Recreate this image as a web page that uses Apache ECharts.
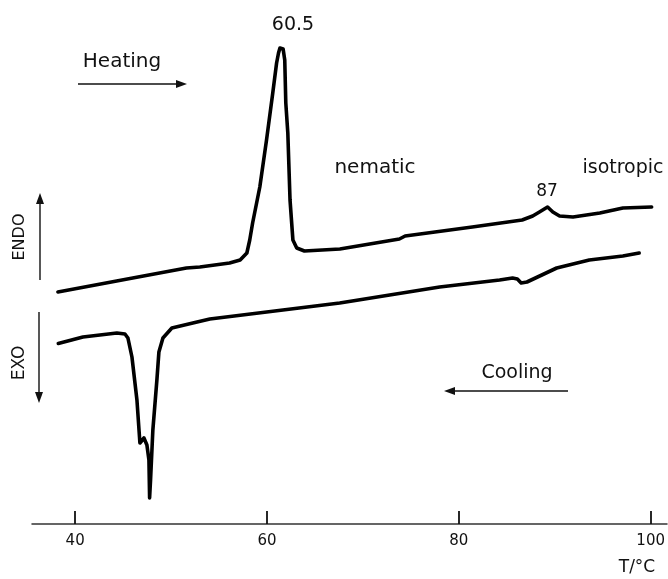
<!DOCTYPE html>
<html>
<head>
<meta charset="utf-8">
<script src="https://cdn.jsdelivr.net/npm/echarts@6/dist/echarts.min.js"></script>
<style>
  html, body { margin: 0; padding: 0; background: #fff; }
  #main { width: 668px; height: 579px; }
</style>
</head>
<body>
<div id="main"></div>
<script>
// DSC trace, temperature (°C) vs heat flow (arbitrary units)
var heatingT = [38.2, 46.0, 51.6, 53.0, 56.1, 57.2, 57.9, 58.2, 58.5, 59.25, 59.95, 60.6, 61.0, 61.2, 61.35, 61.5,
  61.68, 61.85, 61.96, 62.17, 62.4, 62.7, 63.1, 63.9, 67.6, 73.8, 74.4, 81.4, 86.6, 87.7, 88.4, 89.25, 89.8,
  90.5, 91.9, 94.7, 97.1, 100.1];
var heatingY = [46.4, 49.2, 51.2, 51.4, 52.2, 52.8, 54.2, 56.8, 60.2, 67.4, 76.8, 86.2, 92.2, 94.2, 95.2, 95.5,
  95.0, 92.8, 84.2, 78.2, 64.8, 56.8, 55.2, 54.6, 55.0, 57.0, 57.6, 59.4, 60.8, 61.6, 62.4, 63.4, 62.4,
  61.6, 61.4, 62.2, 63.2, 63.4];

var coolingT = [38.24, 40.81, 44.35, 45.19, 45.5, 45.92, 46.44, 46.75, 47.17, 47.48, 47.69, 47.76, 47.86,
  48.1, 48.52, 48.73, 49.15, 50.08, 52.27, 54.04, 67.58, 78.0, 84.25, 85.6, 86.1, 86.5, 87.1, 90.2,
  93.6, 97.1, 98.8];
var coolingY = [36.1, 37.4, 38.2, 38.0, 37.2, 33.4, 24.8, 16.2, 17.2, 15.8, 12.8, 5.2, 8.8,
  18.8, 28.8, 34.4, 37.2, 39.2, 40.2, 41.0, 44.2, 47.4, 48.8, 49.2, 49.0, 48.2, 48.4, 51.2,
  52.8, 53.6, 54.2];

var tickValues = [40, 60, 80, 100];

function pairs(xs, ys) {
  return xs.map(function (x, i) { return [x, ys[i]]; });
}

// thin arrow: line plus filled head at (x2, y2)
function arrow(x1, y1, x2, y2) {
  var a = Math.atan2(y2 - y1, x2 - x1);
  var len = 11, half = 4;
  var bx = x2 - len * Math.cos(a), by = y2 - len * Math.sin(a);
  var px = -Math.sin(a) * half, py = Math.cos(a) * half;
  return {
    type: 'group',
    children: [
      { type: 'line', shape: { x1: x1, y1: y1, x2: bx, y2: by }, style: { stroke: '#111', lineWidth: 1.4 } },
      { type: 'polygon', shape: { points: [[x2, y2], [bx + px, by + py], [bx - px, by - py]] }, style: { fill: '#111' } }
    ]
  };
}

function label(text, x, y, size, opts) {
  var o = opts || {};
  return {
    type: 'text',
    x: x, y: y,
    rotation: o.rotation || 0,
    style: {
      text: text,
      fill: '#111',
      font: size + 'px "DejaVu Sans", sans-serif',
      align: o.align || 'center',
      verticalAlign: 'middle'
    }
  };
}

var chart = echarts.init(document.getElementById('main'));

var option = {
  backgroundColor: '#fff',
  animation: false,
  grid: { left: 32, right: 0, top: 0, bottom: 55 },
  xAxis: {
    type: 'value',
    min: 35.5,
    max: 101.7,
    axisLine: { lineStyle: { color: '#333', width: 1.5 } },
    axisTick: { inside: true, length: 13, customValues: tickValues, lineStyle: { color: '#111', width: 1.8 } },
    axisLabel: {
      customValues: tickValues,
      margin: 10,
      color: '#111',
      fontSize: 15,
      fontFamily: 'DejaVu Sans'
    },
    splitLine: { show: false }
  },
  yAxis: {
    type: 'value',
    min: 0,
    max: 104.8,
    show: false
  },
  series: [
    {
      name: 'Heating',
      type: 'line',
      data: pairs(heatingT, heatingY),
      showSymbol: false,
      smooth: false,
      lineStyle: { color: '#000', width: 3.6, join: 'round', cap: 'round' }
    },
    {
      name: 'Cooling',
      type: 'line',
      data: pairs(coolingT, coolingY),
      showSymbol: false,
      smooth: false,
      lineStyle: { color: '#000', width: 3.6, join: 'round', cap: 'round' }
    }
  ],
  graphic: [
    label('60.5', 293, 25, 19),
    label('Heating', 122, 62, 20),
    arrow(78, 84, 187, 84),
    label('nematic', 375, 168, 20),
    label('isotropic', 623, 168, 19),
    label('87', 547, 192, 17),
    label('ENDO', 20, 237, 16, { rotation: Math.PI / 2 }),
    arrow(40, 280, 40, 193),
    label('EXO', 20, 363, 17, { rotation: Math.PI / 2 }),
    arrow(39, 312, 39, 403),
    label('Cooling', 517, 373, 19),
    arrow(568, 391, 444, 391),
    label('T/°C', 637, 568, 17)
  ]
};

chart.setOption(option);
</script>
</body>
</html>
